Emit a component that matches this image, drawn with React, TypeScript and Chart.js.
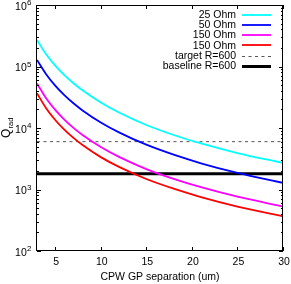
import React, { useEffect, useRef } from "react";
import { Chart, registerables } from "chart.js";

Chart.register(...registerables);

// ---- data ----
const gpSeparation = [3, 4, 5, 6, 7, 8, 10, 12, 15, 18, 21, 25, 30];
const q25Ohm = [270000, 158000, 103000, 72500, 53500, 41000, 26000, 17900, 11200, 7700, 5600, 3920, 2700];
const q50Ohm = [128000, 75000, 48800, 34200, 25200, 19300, 12300, 8500, 5350, 3680, 2670, 1860, 1280];
const q150OhmA = [53000, 30500, 19700, 13700, 10050, 7700, 4900, 3390, 2150, 1490, 1090, 765, 530];
const q150OhmB = [36600, 21000, 13500, 9400, 6900, 5280, 3360, 2330, 1480, 1030, 752, 528, 366];
const targetQ = 6000;
const baselineQ = 1800;
const seriesLabels = ["25 Ohm", "50 Ohm", "150 Ohm", "150 Ohm", "target R=600", "baseline R=600"];
const xTickValues = [5, 10, 15, 20, 25, 30];
const yDecades = [100, 1000, 10000, 100000, 1000000];
const xRange = [3, 30];
const xTitle = "CPW GP separation (um)";

const FONT = '"Liberation Sans", Arial, Helvetica, sans-serif';

const toPoints = (ys: number[]) => gpSeparation.map((x, i) => ({ x, y: ys[i] }));
const flat = (y: number) => xRange.map((x) => ({ x, y }));

const framePlugin = {
  id: "gnuplotFrame",
  afterDraw(chart: any) {
    const ctx: CanvasRenderingContext2D = chart.ctx;
    const { left, right, top, bottom } = chart.chartArea;
    const xs = chart.scales.x;
    const ys = chart.scales.y;
    ctx.save();
    // frame
    ctx.strokeStyle = "#000";
    ctx.lineWidth = 1;
    ctx.setLineDash([]);
    ctx.strokeRect(Math.round(left) - 0.5, Math.round(top) + 0.5, Math.round(right - left), Math.round(bottom - top) - 1);
    // x ticks
    ctx.beginPath();
    xTickValues.forEach((v) => {
      const px = Math.round(xs.getPixelForValue(v)) + 0.5;
      ctx.moveTo(px, bottom);
      ctx.lineTo(px, bottom - 4);
      ctx.moveTo(px, top);
      ctx.lineTo(px, top + 4);
    });
    // y ticks
    yDecades.forEach((d, i) => {
      const py = Math.round(ys.getPixelForValue(d)) + 0.5;
      ctx.moveTo(left, py);
      ctx.lineTo(left + 4, py);
      ctx.moveTo(right, py);
      ctx.lineTo(right - 4, py);
      if (i < yDecades.length - 1) {
        for (let m = 2; m <= 9; m++) {
          const pm = Math.round(ys.getPixelForValue(d * m)) + 0.5;
          ctx.moveTo(left, pm);
          ctx.lineTo(left + 2, pm);
          ctx.moveTo(right, pm);
          ctx.lineTo(right - 2, pm);
        }
      }
    });
    ctx.stroke();

    ctx.fillStyle = "#000";
    // x tick labels
    ctx.font = `10.5px ${FONT}`;
    ctx.textAlign = "center";
    ctx.textBaseline = "middle";
    xTickValues.forEach((v) => {
      ctx.fillText(String(v), xs.getPixelForValue(v) + 1, bottom + 11);
    });
    // x title
    ctx.font = `10.5px ${FONT}`;
    ctx.fillText(xTitle, (left + right) / 2, bottom + 26);

    // y tick labels 10^n
    yDecades.forEach((d) => {
      const py = ys.getPixelForValue(d);
      const exp = String(Math.round(Math.log10(d)));
      ctx.font = `8px ${FONT}`;
      const ew = ctx.measureText(exp).width;
      ctx.textAlign = "left";
      ctx.fillText(exp, 31.5 - ew, py - 2);
      ctx.font = `10.5px ${FONT}`;
      ctx.textAlign = "right";
      ctx.fillText("10", 31.5 - ew - 0.3, py + 2);
    });

    // y title Q_rad rotated
    ctx.save();
    ctx.translate(0, 128);
    ctx.rotate(-Math.PI / 2);
    ctx.textBaseline = "alphabetic";
    ctx.textAlign = "left";
    ctx.font = `12px ${FONT}`;
    const qw = ctx.measureText("Q").width;
    ctx.font = `7.5px ${FONT}`;
    const rw = ctx.measureText("rad").width;
    const start = -(qw + rw) / 2;
    ctx.font = `12px ${FONT}`;
    ctx.fillText("Q", start, 10);
    ctx.font = `7.5px ${FONT}`;
    ctx.fillText("rad", start + qw + 0.3, 12.5);
    ctx.restore();

    // legend
    const rowY0 = 14.5;
    const rowH = 10.3;
    chart.data.datasets.forEach((ds: any, i: number) => {
      const y = rowY0 + i * rowH;
      ctx.font = `10.5px ${FONT}`;
      ctx.textAlign = "right";
      ctx.textBaseline = "middle";
      ctx.fillStyle = "#000";
      ctx.fillText(ds.label, 236, y + 0.5);
      ctx.beginPath();
      ctx.strokeStyle = ds.borderColor;
      ctx.lineWidth = ds.borderWidth;
      ctx.setLineDash(ds.borderDash || []);
      const ly = Math.round(y) + (Math.round(ds.borderWidth) % 2 ? 0.5 : 0);
      ctx.moveTo(242, ly);
      ctx.lineTo(271, ly);
      ctx.stroke();
    });
    ctx.restore();
  },
};

export default function App() {
  const ref = useRef<HTMLCanvasElement | null>(null);
  useEffect(() => {
    if (!ref.current) return;
    const curve = (label: string, data: number[], color: string) => ({
      label,
      data: toPoints(data),
      borderColor: color,
      backgroundColor: color,
      borderWidth: 1.8,
      pointRadius: 0,
      tension: 0.4,
      cubicInterpolationMode: "monotone" as const,
      fill: false,
    });
    const chart = new Chart(ref.current, {
      type: "line",
      data: {
        datasets: [
          curve(seriesLabels[0], q25Ohm, "#00ffff"),
          curve(seriesLabels[1], q50Ohm, "#0000ff"),
          curve(seriesLabels[2], q150OhmA, "#ff00ff"),
          curve(seriesLabels[3], q150OhmB, "#ff0000"),
          {
            label: seriesLabels[4],
            data: flat(targetQ),
            borderColor: "#555555",
            backgroundColor: "#555555",
            borderWidth: 1,
            borderDash: [3, 3.5],
            pointRadius: 0,
            fill: false,
          },
          {
            label: seriesLabels[5],
            data: flat(baselineQ),
            borderColor: "#000000",
            backgroundColor: "#000000",
            borderWidth: 3,
            pointRadius: 0,
            fill: false,
          },
        ],
      },
      options: {
        animation: false,
        responsive: false,
        maintainAspectRatio: false,
        layout: { padding: { top: 5, right: 8, left: 0, bottom: 0 } },
        plugins: { legend: { display: false }, tooltip: { enabled: false } },
        scales: {
          x: {
            type: "linear",
            min: xRange[0],
            max: xRange[1],
            grid: { display: false },
            border: { display: false },
            ticks: { display: false },
            afterFit: (s: any) => {
              s.height = 33;
            },
          },
          y: {
            type: "logarithmic",
            min: yDecades[0],
            max: yDecades[yDecades.length - 1],
            grid: { display: false },
            border: { display: false },
            ticks: { display: false },
            afterFit: (s: any) => {
              s.width = 37;
            },
          },
        },
      },
      plugins: [framePlugin],
    });
    return () => chart.destroy();
  }, []);
  return (
    <canvas
      ref={ref}
      width={291}
      height={284}
      style={{ position: "fixed", left: 0, top: 0, width: 291, height: 284, display: "block" }}
    />
  );
}
